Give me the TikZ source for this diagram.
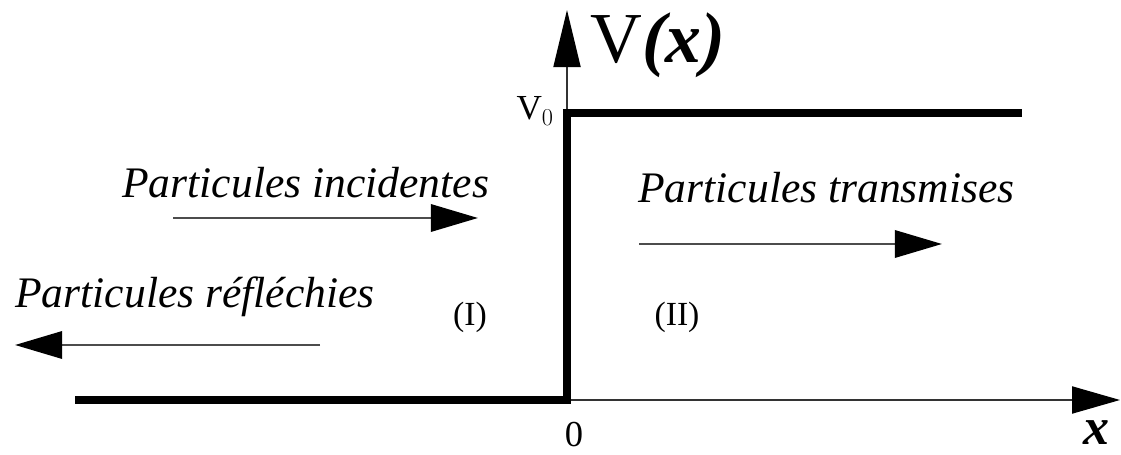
\documentclass[tikz,border=0pt]{standalone}
\usepackage{fontspec}
\setmainfont{Liberation Serif}
\usetikzlibrary{arrows.meta}

\begin{document}
\begin{tikzpicture}[>={Triangle[length=1.18cm,width=0.68cm,color=black]},line cap=butt,
  axis/.style={line width=1pt,black!80},
  barrier/.style={line width=5.7pt,line join=miter},
  flow/.style={->,line width=2.1pt,black!70},
  lbl/.style={inner sep=0pt,font=\fontsize{31}{36}\selectfont\itshape},
  reg/.style={inner sep=0pt,font=\fontsize{24}{28}\selectfont}]
\useasboundingbox (0,0) rectangle (28.025,11.375);
% axes
\coordinate (O) at (14.175,1.375);
\coordinate (xend) at (28.0,1.375);
\coordinate (yend) at (14.175,11.125);
\draw[axis,-{Triangle[length=1.2cm,width=0.68cm,color=black]}] (O) -- (xend);
\draw[axis,-{Triangle[length=1.43cm,width=0.68cm,color=black]}] (O) -- (yend);
% potential step
\coordinate (left) at (1.875,1.375);
\coordinate (top) at (14.175,8.55);
\coordinate (right) at (25.55,8.55);
\draw[barrier] (left) -- (O) -- (top) -- (right);
\node[inner sep=0pt,anchor=base west,font=\fontsize{51}{56}\selectfont] (Vlab) at (14.75,9.8) {V{\bfseries\itshape (x)}};
\node[inner sep=0pt,anchor=east,font=\fontsize{25}{28}\selectfont] (V0lab) at (13.85,8.6) {V$_0$};
\node[inner sep=0pt,font=\fontsize{26}{30}\selectfont] (zero) at (14.35,0.5) {0};
\node[inner sep=0pt,font=\fontsize{37}{42}\selectfont\bfseries\itshape] (xlab) at (27.4,0.55) {x};
% particles
\node[lbl,anchor=base west] (inc) at (3.05,6.425) {Particules incidentes};
\coordinate (inc1) at (4.325,5.925);
\coordinate (inc2) at (11.95,5.925);
\draw[flow] (inc1) -- (inc2);
\node[lbl,anchor=base west] (refl) at (0.375,3.675) {Particules réfléchies};
\coordinate (refl1) at (8.0,2.75);
\coordinate (refl2) at (0.375,2.75);
\draw[flow] (refl1) -- (refl2);
\node[lbl,anchor=base west] (trans) at (15.95,6.3) {Particules transmises};
\coordinate (trans1) at (15.975,5.275);
\coordinate (trans2) at (23.55,5.275);
\draw[flow] (trans1) -- (trans2);
% regions
\node[reg] (regI) at (11.75,3.45) {(I)};
\node[reg] (regII) at (16.925,3.45) {(II)};
\end{tikzpicture}
\end{document}
